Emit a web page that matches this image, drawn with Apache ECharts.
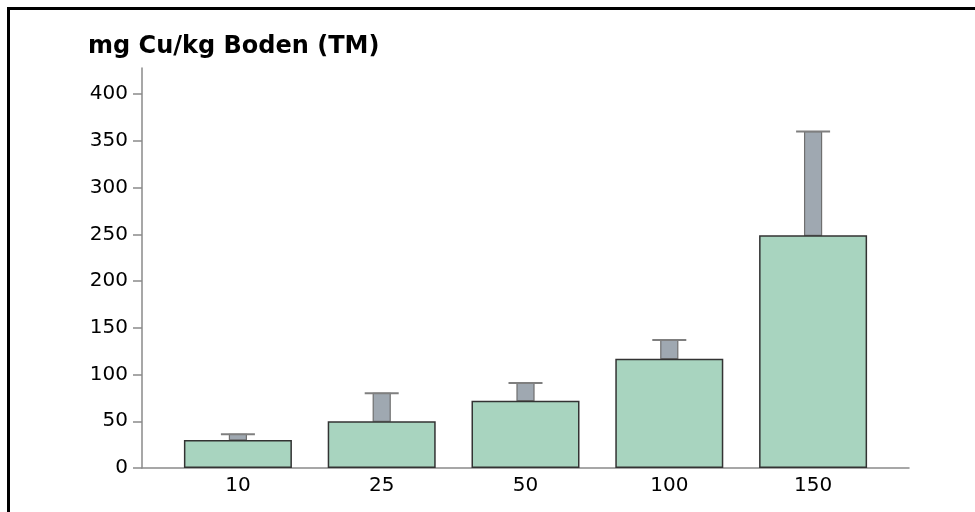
<!DOCTYPE html>
<html>
<head>
<meta charset="utf-8">
<script src="https://cdn.jsdelivr.net/npm/echarts@6/dist/echarts.min.js"></script>
<style>
html,body{margin:0;padding:0;background:#fff;}
#chart{width:975px;height:512px;}
</style>
</head>
<body>
<div id="chart"></div>
<script>
const categories = ['10', '25', '50', '100', '150'];
const means = [30, 50, 72, 117, 249];
const upper = [36, 80, 91, 137, 360];
const yTicks = [0, 50, 100, 150, 200, 250, 300, 350, 400];
const titleText = 'mg Cu/kg Boden (TM)';

const chart = echarts.init(document.getElementById('chart'), null, {renderer: 'canvas'});

const barData = means.map((v, i) => [i, v]);
const errData = means.map((v, i) => [i, v, upper[i]]);

const option = {
  animation: false,
  backgroundColor: '#ffffff',
  title: {
    text: titleText,
    left: 83,
    top: 30,
    textStyle: {fontFamily: 'DejaVu Sans', fontWeight: 'bold', fontSize: 24, color: '#000'}
  },
  graphic: [{
    type: 'rect',
    shape: {x: 8.5, y: 8.5, width: 1200, height: 1200},
    style: {fill: null, stroke: '#000', lineWidth: 3},
    silent: true, z: 100
  }],
  grid: {left: 142, right: 66, top: 68, bottom: 44},
  xAxis: {
    type: 'value',
    min: -0.667,
    max: 4.667,
    splitLine: {show: false},
    axisLine: {show: true, onZero: false, lineStyle: {color: '#8a8a8a', width: 1.5}},
    axisTick: {show: false},
    axisLabel: {
      customValues: [0, 1, 2, 3, 4],
      formatter: v => categories[Math.round(v)],
      fontFamily: 'DejaVu Sans', fontSize: 20, color: '#000', margin: 8
    }
  },
  yAxis: {
    type: 'value',
    min: 0,
    max: 428,
    splitLine: {show: false},
    axisLine: {show: true, onZero: false, lineStyle: {color: '#8a8a8a', width: 1.5}},
    axisTick: {show: true, length: 9, customValues: yTicks, lineStyle: {color: '#8a8a8a', width: 1.5}},
    axisLabel: {customValues: yTicks, fontFamily: 'DejaVu Sans', fontSize: 20, color: '#000', margin: 14}
  },
  series: [
    {
      type: 'custom',
      z: 1,
      data: errData,
      renderItem: function (params, api) {
        const x = api.value(0), lo = api.value(1), hi = api.value(2);
        const p1 = api.coord([x, lo]);
        const p2 = api.coord([x, hi]);
        return {
          type: 'group',
          children: [
            {type: 'rect', shape: {x: p1[0] - 8.5, y: p2[1], width: 17, height: p1[1] - p2[1]},
             style: {fill: '#9fa8b1', stroke: '#6f6f6f', lineWidth: 1.2}},
            {type: 'line', shape: {x1: p2[0] - 17, y1: p2[1], x2: p2[0] + 17, y2: p2[1]},
             style: {stroke: '#7f7f7f', lineWidth: 2}}
          ]
        };
      }
    },
    {
      type: 'bar',
      z: 2,
      data: barData,
      barWidth: 108,
      itemStyle: {color: '#a8d4bf', borderColor: '#333', borderWidth: 1.5}
    }
  ]
};
chart.setOption(option);
</script>
</body>
</html>
